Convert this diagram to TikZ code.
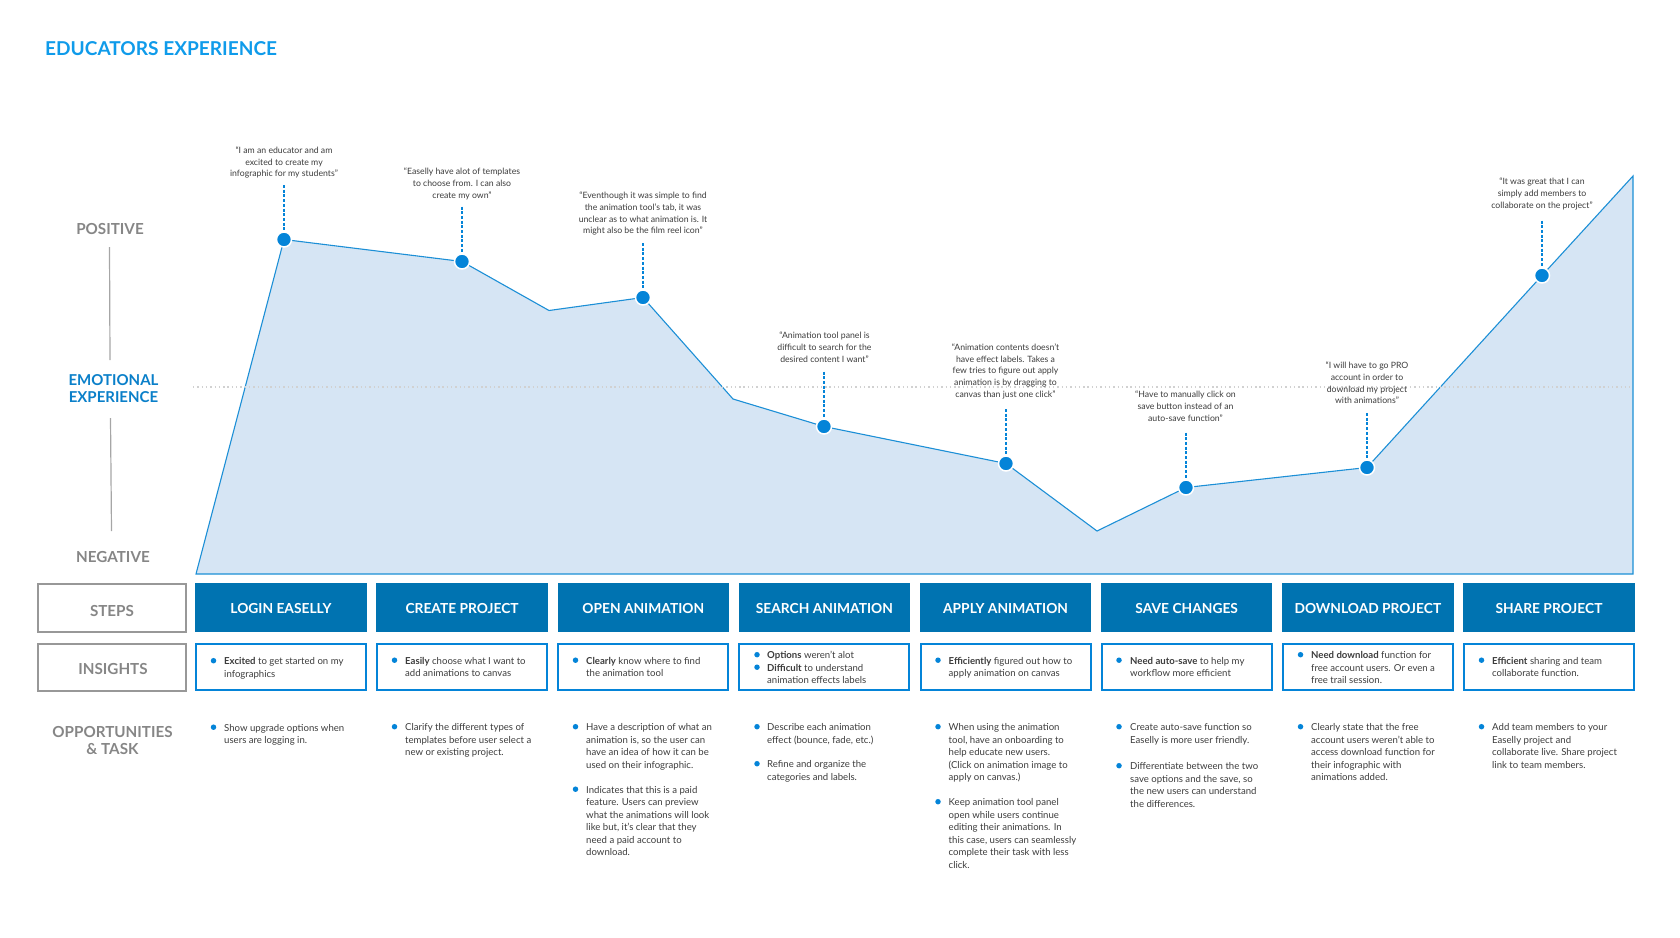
\documentclass[tikz,border=0pt]{standalone}
\usepackage{fontspec}
\setmainfont{Lato}
\usetikzlibrary{positioning}
\definecolor{titleblue}{HTML}{0F9BEA}
\definecolor{labelblue}{HTML}{0A7FC9}
\definecolor{stepblue}{HTML}{0073B1}
\definecolor{dotblue}{HTML}{0484D8}
\definecolor{linkblue}{HTML}{1C8FD6}
\definecolor{areablue}{HTML}{D6E5F4}
\definecolor{labelgray}{HTML}{868686}
\definecolor{bodygray}{HTML}{3C3C3C}
\tikzset{x=1pt,y=-1pt,
  axislabel/.style={font=\fontsize{15.2}{17.5}\selectfont\bfseries,text=labelgray,align=center,inner sep=0},
  rowbox/.style={draw=labelgray!85,line width=2pt,minimum width=148pt,inner sep=0},
  stepbox/.style={fill=stepblue,text=white,minimum width=171.5pt,minimum height=49.5pt,inner sep=0,
    text height=11.5pt,text depth=0pt,font=\fontsize{13.8}{16}\selectfont\bfseries},
  insightbox/.style={draw=dotblue,line width=2pt,minimum width=170pt,minimum height=46pt,inner sep=0},
  quote/.style={font=\fontsize{8.7}{11.7}\selectfont,text=bodygray,align=center,inner sep=0,anchor=north,yshift=-1.5pt},
  body/.style={font=\fontsize{9.6}{12.5}\selectfont,text=bodygray,align=left,inner sep=0,anchor=north west,yshift=-1.8pt},
  pdot/.style={circle,fill=dotblue,draw=white,line width=1.5pt,minimum size=15pt,inner sep=0},
  bdot/.style={circle,fill=dotblue,minimum size=5.5pt,inner sep=0,yshift=-0.7pt},
  drop/.style={dotblue,line width=1.5pt,dash pattern=on 3pt off 1.7pt}}
\begin{document}
\begin{tikzpicture}
  \useasboundingbox (0,0) rectangle (1680,937);
  \node[anchor=west,inner sep=0,text=titleblue,font=\fontsize{19.1}{24}\selectfont\bfseries] (title) at (45,48.5) {EDUCATORS EXPERIENCE};

  % curve
  \coordinate (base1) at (196,574);
  \coordinate (base2) at (1633,574);
  \coordinate (ptA) at (284,239.5);
  \coordinate (ptB) at (462,261.5);
  \coordinate (low1) at (549,310.5);
  \coordinate (ptC) at (643,297.5);
  \coordinate (low2) at (733,399);
  \coordinate (ptD) at (824,426.5);
  \coordinate (ptE) at (1006,463.5);
  \coordinate (low3) at (1097,531);
  \coordinate (ptF) at (1186,487.5);
  \coordinate (ptG) at (1367,467.5);
  \coordinate (ptH) at (1542,275.5);
  \coordinate (peak) at (1633,176);
  \draw[linkblue,line width=1.1pt,fill=areablue] (base1) -- (ptA) -- (ptB) -- (low1) -- (ptC) -- (low2) -- (ptD)
    -- (ptE) -- (low3) -- (ptF) -- (ptG) -- (ptH) -- (peak) -- (base2) -- cycle;
  \coordinate (mid1) at (193,387);
  \coordinate (mid2) at (1630,387);
  \draw[black!18,line width=1.4pt,dash pattern=on 1.4pt off 2.9pt] (mid1) -- (mid2);

  % left column
  \node[axislabel] (positive) at (110,229.5) {POSITIVE};
  \node[axislabel,text=labelblue,font=\fontsize{15}{17.3}\selectfont\bfseries] (emotional) at (113.5,388.5) {EMOTIONAL\\EXPERIENCE};
  \node[axislabel] (negative) at (113,556.5) {NEGATIVE};
  \coordinate (axis1) at (109.5,247);
  \coordinate (axis2) at (110,360);
  \coordinate (axis3) at (110.5,418);
  \coordinate (axis4) at (111.5,531);
  \draw[black!35,line width=1.2pt] (axis1) -- (axis2);
  \draw[black!35,line width=1.2pt] (axis3) -- (axis4);
  \node[rowbox,minimum height=48pt,anchor=north west] (stepsrow) at (37,582.7) {};
  \node[rowbox,minimum height=47.5pt,anchor=north west] (insightsrow) at (37,642.5) {};
  \node[axislabel] at (112,611) (stepslabel) {STEPS};
  \node[axislabel] at (113,668.5) (insightslabel) {INSIGHTS};
  \node[axislabel] at (112.5,740.5) (opplabel) {OPPORTUNITIES\\\& TASK};

  % steps and insight boxes
  \foreach \i/\t in {1/LOGIN EASELLY,2/CREATE PROJECT,3/OPEN ANIMATION,4/SEARCH ANIMATION,
    5/APPLY ANIMATION,6/SAVE CHANGES,7/DOWNLOAD PROJECT,8/SHARE PROJECT} {
    \node[stepbox,anchor=north west] (step\i) at ({195+181.15*(\i-1)},582.5) {\t};
    \node[insightbox,anchor=north west] (ins\i) at ({195+181.15*(\i-1)},642.5) {};
  }

  % dots and quotes
  \foreach \p/\x/\y in {A/284/185,B/462/206.5,C/643/243,D/824/371.5,E/1006/409,F/1186/432.5,G/1367/413,H/1542/220.5} {
    \coordinate (top\p) at (\x,\y);
    \node[pdot] (dot\p) at (pt\p) {};
    \draw[drop] (top\p) -- (dot\p);
  }
  \node[quote] (quoteA) at (284,145) {``I am an educator and am\\excited to create my\\infographic for my students''};
  \node[quote] (quoteB) at (462,166.3) {``Easelly have alot of templates\\to choose from. I can also\\create my own''};
  \node[quote] (quoteC) at (643,190.3) {``Eventhough it was simple to find\\the animation tool's tab, it was\\unclear as to what animation is. It\\might also be the film reel icon''};
  \node[quote] (quoteD) at (824.5,330.6) {``Animation tool panel is\\difficult to search for the\\desired content I want''};
  \node[quote] (quoteE) at (1005.5,342) {``Animation contents doesn't\\have effect labels. Takes a\\few tries to figure out apply\\animation is by dragging to\\canvas than just one click''};
  \node[quote] (quoteF) at (1185.5,389.3) {``Have to manually click on\\save button instead of an\\auto-save function''};
  \node[quote] (quoteG) at (1367,360.3) {``I will have to go PRO\\account in order to\\download my project\\with animations''};
  \node[quote] (quoteH) at (1542,176.3) {``It was great that I can\\simply add members to\\collaborate on the project''};

  % insights
  \node[bdot] (ib1) at (213.5,660) {};
  \node[body] (it1) at (224,655.5) {\textbf{Excited} to get started on my\\infographics};
  \node[bdot] (ib2) at (394.5,659.5) {};
  \node[body] (it2) at (405,655) {\textbf{Easily} choose what I want to\\add animations to canvas};
  \node[bdot] (ib3) at (575.5,659.5) {};
  \node[body] (it3) at (586,655) {\textbf{Clearly} know where to find\\the animation tool};
  \node[bdot] (ib4a) at (757,654) {};
  \node[bdot] (ib4b) at (757,666.5) {};
  \node[body] (it4) at (767,649.5) {\textbf{Options} weren't alot\\\textbf{Difficult} to understand\\animation effects labels};
  \node[bdot] (ib5) at (938,659.5) {};
  \node[body] (it5) at (948.5,655) {\textbf{Efficiently} figured out how to\\apply animation on canvas};
  \node[bdot] (ib6) at (1119,659.5) {};
  \node[body] (it6) at (1130,655) {\textbf{Need auto-save} to help my\\workflow more efficient};
  \node[bdot] (ib7) at (1300.5,654) {};
  \node[body] (it7) at (1311,649.5) {\textbf{Need download} function for\\free account users. Or even a\\free trail session.};
  \node[bdot] (ib8) at (1481.5,659.5) {};
  \node[body] (it8) at (1492,655) {\textbf{Efficient} sharing and team\\collaborate function.};

  % opportunities
  \node[bdot] (ob1) at (213.5,726.5) {};
  \node[body] (ot1) at (224,722) {Show upgrade options when\\users are logging in.};
  \node[bdot] (ob2) at (394.5,726) {};
  \node[body] (ot2) at (405,721.5) {Clarify the different types of\\templates before user select a\\new or existing project.};
  \node[bdot] (ob3a) at (575.5,726) {};
  \node[body] (ot3a) at (586,721.5) {Have a description of what an\\animation is, so the user can\\have an idea of how it can be\\used on their infographic.};
  \node[bdot] (ob3b) at (575.5,788.5) {};
  \node[body] (ot3b) at (586,784) {Indicates that this is a paid\\feature. Users can preview\\what the animations will look\\like but, it's clear that they\\need a paid account to\\download.};
  \node[bdot] (ob4a) at (757,726) {};
  \node[body] (ot4a) at (767,721.5) {Describe each animation\\effect (bounce, fade, etc.)};
  \node[bdot] (ob4b) at (757,763) {};
  \node[body] (ot4b) at (767,758.5) {Refine and organize the\\categories and labels.};
  \node[bdot] (ob5a) at (938,726) {};
  \node[body] (ot5a) at (948.5,721.5) {When using the animation\\tool, have an onboarding to\\help educate new users.\\(Click on animation image to\\apply on canvas.)};
  \node[bdot] (ob5b) at (938,801) {};
  \node[body] (ot5b) at (948.5,796.5) {Keep animation tool panel\\open while users continue\\editing their animations. In\\this case, users can seamlessly\\complete their task with less\\click.};
  \node[bdot] (ob6a) at (1119,726) {};
  \node[body] (ot6a) at (1130,721.5) {Create auto-save function so\\Easelly is more user friendly.};
  \node[bdot] (ob6b) at (1119,765) {};
  \node[body] (ot6b) at (1130,760.5) {Differentiate between the two\\save options and the save, so\\the new users can understand\\the differences.};
  \node[bdot] (ob7) at (1300.5,726) {};
  \node[body] (ot7) at (1311,721.5) {Clearly state that the free\\account users weren't able to\\access download function for\\their infographic with\\animations added.};
  \node[bdot] (ob8) at (1481.5,726) {};
  \node[body] (ot8) at (1492,721.5) {Add team members to your\\Easelly project and\\collaborate live. Share project\\link to team members.};
\end{tikzpicture}
\end{document}
